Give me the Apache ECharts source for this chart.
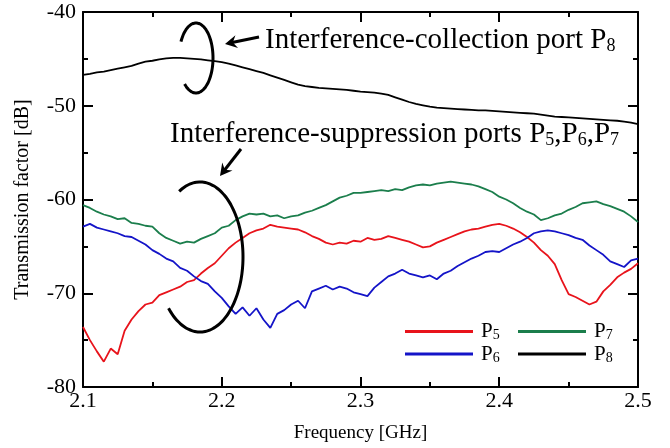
<!DOCTYPE html>
<html>
<head>
<meta charset="utf-8">
<script src="https://cdn.jsdelivr.net/npm/echarts@6/dist/echarts.min.js"></script>
<style>
  html, body { margin: 0; padding: 0; background: #fff; }
  #chart { width: 670px; height: 448px; }
</style>
</head>
<body>
<div id="chart"></div>
<script>
// frequency points [GHz]
const freq = [
  2.100, 2.105, 2.110, 2.115, 2.120, 2.125, 2.130, 2.135, 2.140, 2.145,
  2.150, 2.155, 2.160, 2.165, 2.170, 2.175, 2.180, 2.185, 2.190, 2.195,
  2.200, 2.205, 2.210, 2.215, 2.220, 2.225, 2.230, 2.235, 2.240, 2.245,
  2.250, 2.255, 2.260, 2.265, 2.270, 2.275, 2.280, 2.285, 2.290, 2.295,
  2.300, 2.305, 2.310, 2.315, 2.320, 2.325, 2.330, 2.335, 2.340, 2.345,
  2.350, 2.355, 2.360, 2.365, 2.370, 2.375, 2.380, 2.385, 2.390, 2.395,
  2.400, 2.405, 2.410, 2.415, 2.420, 2.425, 2.430, 2.435, 2.440, 2.445,
  2.450, 2.455, 2.460, 2.465, 2.470, 2.475, 2.480, 2.485, 2.490, 2.495,
  2.500
];

// transmission factor [dB]
const p5 = [
  -73.6, -75.0, -76.2, -77.3, -75.9, -76.5, -74.0, -72.8, -71.9, -71.2,
  -71.0, -70.2, -69.9, -69.6, -69.3, -68.8, -68.6, -67.9, -67.3, -66.8,
  -66.0, -65.2, -64.6, -64.1, -63.6, -63.3, -63.1, -62.7, -62.9, -63.0,
  -63.1, -63.2, -63.5, -63.9, -64.2, -64.6, -64.8, -64.6, -64.7, -64.4,
  -64.5, -64.1, -64.3, -64.2, -63.9, -64.1, -64.3, -64.5, -64.8, -65.1,
  -65.0, -64.6, -64.3, -64.0, -63.7, -63.4, -63.2, -63.1, -62.9, -62.7,
  -62.6, -62.8, -63.1, -63.5, -64.0, -64.6, -65.4, -66.0, -66.9, -68.6,
  -70.1, -70.4, -70.8, -71.2, -70.9, -69.8, -69.1, -68.3, -67.8, -67.4,
  -66.8
];
const p6 = [
  -62.9, -62.6, -63.0, -63.2, -63.4, -63.6, -63.9, -64.0, -64.4, -64.8,
  -65.4, -65.8, -66.3, -66.6, -67.3, -67.6, -68.2, -68.7, -69.0, -69.8,
  -70.5, -71.4, -72.2, -71.5, -72.4, -71.6, -72.8, -73.7, -72.2, -71.8,
  -71.2, -70.8, -71.6, -69.8, -69.5, -69.2, -69.6, -69.3, -69.5, -69.9,
  -70.1, -70.3, -69.4, -68.8, -68.2, -67.9, -67.5, -67.9, -68.1, -68.3,
  -68.1, -68.5, -67.9, -67.6, -67.1, -66.7, -66.3, -66.0, -65.6, -65.5,
  -65.6, -65.2, -64.8, -64.5, -64.1, -63.6, -63.4, -63.3, -63.4, -63.6,
  -63.8, -64.1, -64.3, -64.9, -65.4, -65.9, -66.6, -66.9, -67.2, -66.5,
  -66.3
];
const p7 = [
  -60.6, -60.9, -61.3, -61.6, -61.8, -62.1, -62.0, -62.5, -62.6, -62.8,
  -62.9, -63.6, -64.1, -64.4, -64.7, -64.5, -64.6, -64.2, -63.9, -63.6,
  -63.0, -62.8, -62.2, -61.8, -61.5, -61.6, -61.5, -61.8, -61.7, -62.0,
  -61.8, -61.7, -61.4, -61.2, -60.9, -60.6, -60.2, -59.8, -59.6, -59.3,
  -59.3, -59.2, -59.1, -59.0, -59.1, -58.9, -59.0, -58.7, -58.5, -58.4,
  -58.5, -58.3, -58.2, -58.1, -58.2, -58.3, -58.4, -58.6, -58.9, -59.2,
  -59.7, -60.0, -60.4, -60.9, -61.3, -61.6, -62.2, -62.0, -61.7, -61.5,
  -61.1, -60.8, -60.4, -60.3, -60.2, -60.5, -60.7, -61.0, -61.3, -61.8,
  -62.4
];
const p8 = [
  -46.7, -46.6, -46.45, -46.35, -46.2, -46.05, -45.9, -45.75, -45.5, -45.3,
  -45.2, -45.05, -44.95, -44.9, -44.9, -44.95, -45.0, -45.05, -45.15, -45.25,
  -45.35, -45.5, -45.7, -45.9, -46.1, -46.3, -46.5, -46.75, -47.0, -47.25,
  -47.5, -47.75, -47.9, -48.0, -48.1, -48.15, -48.2, -48.25, -48.3, -48.4,
  -48.5, -48.55, -48.6, -48.7, -48.85, -49.1, -49.35, -49.6, -49.8, -49.95,
  -50.1, -50.2, -50.25, -50.3, -50.35, -50.4, -50.45, -50.5, -50.5, -50.55,
  -50.6, -50.65, -50.7, -50.75, -50.8, -50.85, -50.95, -51.05, -51.15, -51.2,
  -51.25, -51.3, -51.35, -51.4, -51.45, -51.5, -51.55, -51.6, -51.7, -51.8,
  -51.95
];

const seriesNames = ['P5', 'P6', 'P7', 'P8'];
const seriesValues = [p5, p6, p7, p8];
const seriesColors = ['#e8131b', '#1414c8', '#1b7e4c', '#000000'];

const FONT = '"Liberation Serif", "Times New Roman", serif';

const chart = echarts.init(document.getElementById('chart'));

function subText(name) {
  return '{p|P}{s|' + name.slice(1) + '}';
}

// open ellipse outline used for the hand-drawn style markers
function ellipseArc(cx, cy, rx, ry, a0, a1) {
  const pts = [];
  for (let a = a0; a <= a1; a += 4) {
    const t = a * Math.PI / 180;
    pts.push([cx + rx * Math.cos(t), cy + ry * Math.sin(t)]);
  }
  return {
    type: 'polyline', z: 100,
    shape: { points: pts, smooth: 0.3 },
    style: { fill: null, stroke: '#000', lineWidth: 3 }
  };
}

function arrow(x1, y1, x2, y2) {
  const dx = x2 - x1, dy = y2 - y1;
  const len = Math.hypot(dx, dy);
  const ux = dx / len, uy = dy / len;
  const px = -uy, py = ux;
  const hl = 12, hw = 6.5;
  const bx = x2 - ux * hl, by = y2 - uy * hl;
  return [
    {
      type: 'line', z: 100,
      shape: { x1: x1, y1: y1, x2: x2 - ux * 6, y2: y2 - uy * 6 },
      style: { stroke: '#000', lineWidth: 3 }
    },
    {
      type: 'polygon', z: 100,
      shape: { points: [[x2, y2], [bx + px * hw, by + py * hw], [x2 - ux * 8, y2 - uy * 8], [bx - px * hw, by - py * hw]] },
      style: { fill: '#000' }
    }
  ];
}

const richSub = {
  p: { fontSize: 29, fontFamily: FONT, fill: '#000', lineHeight: 31 },
  s: { fontSize: 18, fontFamily: FONT, fill: '#000', lineHeight: 18, verticalAlign: 'bottom' },
  c: { fontSize: 29, fontFamily: FONT, fill: '#000', lineHeight: 31 }
};

const legendBase = {
  orient: 'vertical',
  icon: 'rect',
  itemWidth: 68,
  itemHeight: 3,
  itemGap: 1,
  top: 316,
  formatter: subText,
  textStyle: {
    padding: [0, 0, 0, 3],
    rich: {
      p: { fontSize: 21, fontFamily: FONT, color: '#000', lineHeight: 22 },
      s: { fontSize: 14, fontFamily: FONT, color: '#000', lineHeight: 13, verticalAlign: 'bottom' }
    }
  }
};

const axisCommon = {
  axisLine: { show: true, onZero: false, lineStyle: { color: '#000', width: 2 } },
  axisTick: { show: true, inside: true, length: 10, lineStyle: { color: '#000', width: 2 } },
  minorTick: { show: true, splitNumber: 2, length: 5, lineStyle: { color: '#000', width: 2 } },
  splitLine: { show: false }
};

const option = {
  animation: false,
  backgroundColor: '#fff',
  grid: { left: 83, right: 32, top: 12, bottom: 61 },
  xAxis: [
    Object.assign({
      type: 'value', min: 2.1, max: 2.5, interval: 0.1, position: 'bottom',
      name: 'Frequency [GHz]', nameLocation: 'middle', nameGap: 37,
      nameTextStyle: { fontFamily: FONT, fontSize: 19, color: '#000' },
      axisLabel: { color: '#000', fontFamily: FONT, fontSize: 22, margin: 3, formatter: v => v.toFixed(1) }
    }, axisCommon),
    Object.assign({
      type: 'value', min: 2.1, max: 2.5, interval: 0.1, position: 'top',
      axisLabel: { show: false }
    }, axisCommon)
  ],
  yAxis: [
    Object.assign({
      type: 'value', min: -80, max: -40, interval: 10, position: 'left',
      name: 'Transmission factor [dB]', nameLocation: 'middle', nameGap: 50,
      nameTextStyle: { fontFamily: FONT, fontSize: 20, color: '#000' },
      axisLabel: { color: '#000', fontFamily: FONT, fontSize: 22, margin: 7 }
    }, axisCommon),
    Object.assign({
      type: 'value', min: -80, max: -40, interval: 10, position: 'right',
      axisLabel: { show: false }
    }, axisCommon)
  ],
  legend: [
    Object.assign({ data: ['P5', 'P6'], left: 400 }, legendBase),
    Object.assign({ data: ['P7', 'P8'], left: 513 }, legendBase)
  ],
  series: seriesNames.map((name, k) => ({
    name: name,
    type: 'line',
    symbol: 'none',
    color: seriesColors[k],
    lineStyle: { color: seriesColors[k], width: 1.8 },
    data: freq.map((f, i) => [f, seriesValues[k][i]])
  })),
  graphic: [
    ellipseArc(196, 58, 17, 35, -152, 133),
    ellipseArc(200, 257, 43, 75, -119, 139),
    ...arrow(259, 37, 225, 44),
    ...arrow(241, 149, 220, 176),
    {
      type: 'text', z: 100, x: 265, y: 40,
      style: { text: '{p|Interference-collection port P}{s|8}', rich: richSub, verticalAlign: 'middle' }
    },
    {
      type: 'text', z: 100, x: 170, y: 134,
      style: { text: '{p|Interference-suppression ports P}{s|5}{c|,P}{s|6}{c|,P}{s|7}', rich: richSub, verticalAlign: 'middle' }
    }
  ]
};

chart.setOption(option);
window.addEventListener('resize', () => chart.resize());
</script>
</body>
</html>
